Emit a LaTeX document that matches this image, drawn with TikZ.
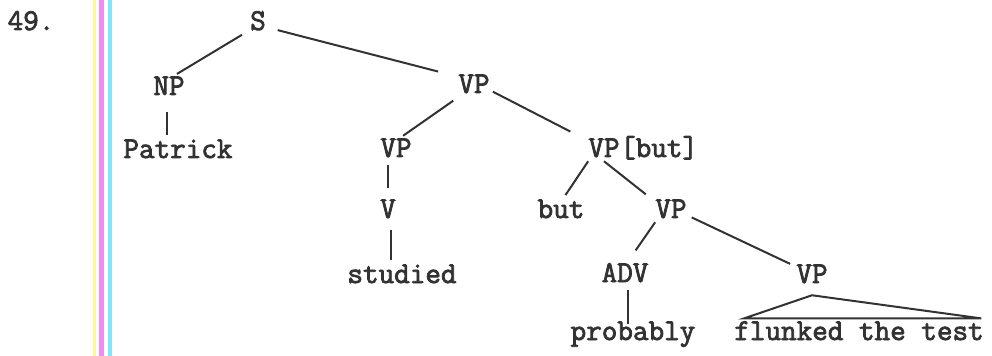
\documentclass[tikz,border=0pt]{standalone}
\usepackage{fontspec}
\newfontfamily\treefont{Latin Modern Mono}[FakeBold=2.5]
\definecolor{ink}{RGB}{50,50,50}
\definecolor{barY}{RGB}{255,248,150}
\definecolor{barM}{RGB}{240,140,240}
\definecolor{barC}{RGB}{130,230,250}
\begin{document}
\begin{tikzpicture}[x=0.75pt,y=-0.75pt]
\tikzstyle{cat}=[anchor=base, inner sep=0pt, text height=12pt, text depth=3pt, text=ink, font=\treefont\fontsize{22.7}{23}\selectfont]
\tikzstyle{branch}=[draw=ink, line width=1.5pt]
\useasboundingbox (0,0) rectangle (992,356);

% scanner margin bars
\draw[barY, line width=2.25pt] (94.5,0) -- (94.5,356);
\draw[barM, line width=3.75pt] (101,0) -- (101,356);
\draw[barC, line width=3pt] (109.5,0) -- (109.5,356);

\node[cat] (num) at (31,30) {49.};
\node[cat] (S) at (258,30) {S};
\node[cat] (NP) at (169,95) {NP};
\node[cat] (Patrick) at (178,158) {Patrick};
\node[cat] (VP1) at (474,93) {VP};
\node[cat] (VP2) at (396,157) {VP};
\node[cat] (VPb) at (604,157) {VP};
\node[cat, anchor=base west] (butf) at (VPb.base east) {[but]};
\node[cat] (V) at (388,218) {V};
\node[cat] (but) at (561,218) {but};
\node[cat] (VP3) at (671,218) {VP};
\node[cat] (studied) at (402,283) {studied};
\node[cat] (ADV) at (625,282) {ADV};
\node[cat] (VP4) at (812,283) {VP};
\node[cat] (probably) at (633,340) {probably};
\node[cat] (flunked) at (859,340) {flunked the test};

\draw[branch, shorten <=7pt, shorten >=7pt] (S.base west) -- (NP.north);
\draw[branch, shorten <=9pt, shorten >=15.5pt] (S.mid east) -- (VP1.north west);
\draw[branch, shorten <=9.75pt, shorten >=5pt] (NP.south -| 167,0) -- (Patrick.north -| 167,0);
\draw[branch, shorten <=4.5pt, shorten >=6.5pt] (VP1.south west) -- (VP2.north);
\draw[branch, shorten <=2.5pt, shorten >=15pt] (VP1.mid east) -- (VPb.north west);
\draw[branch, shorten <=3pt, shorten >=10.5pt] (V.north |- VP2.south) -- (V.north);
\draw[branch, shorten >=6pt] (VPb.south west) -- (but.north);
\draw[branch, shorten >=9pt] (VPb.south) -- (VP3.north west);
\draw[branch, shorten <=6pt, shorten >=5pt] (V.south -| 391,0) -- (studied.north -| 391,0);
\draw[branch, shorten >=14pt] (VP3.south west) -- (ADV.north);
\draw[branch, shorten <=4pt, shorten >=5pt] (VP3.mid east) -- (VP4.north west);
\draw[branch, shorten <=3pt] (ADV.south -| 628,0) -- (probably.north -| 628,0);
\draw[branch] ([xshift=7.5pt,yshift=4pt]flunked.north west) -- ([yshift=-6pt]VP4.south)
  -- ([xshift=-2pt,yshift=4pt]flunked.north east) -- cycle;
\end{tikzpicture}
\end{document}
